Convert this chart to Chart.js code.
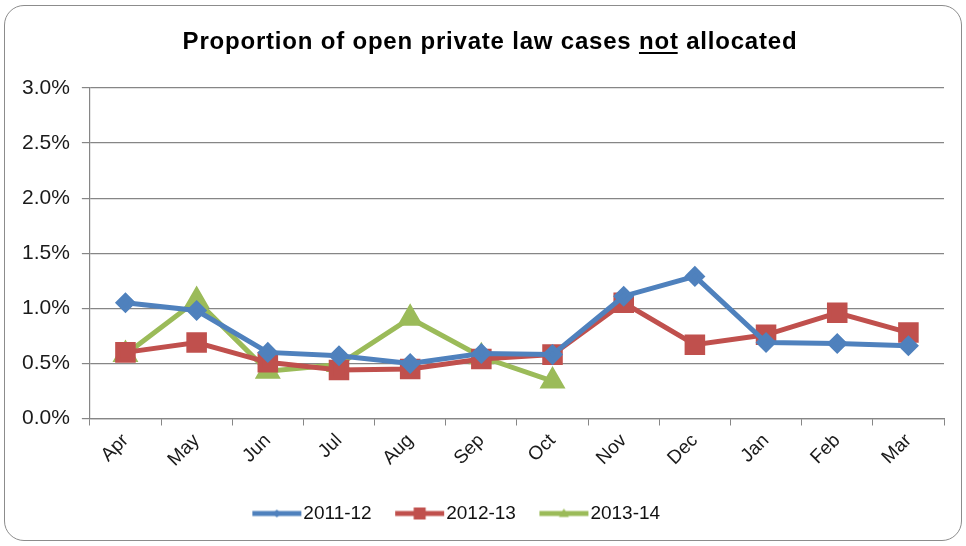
<!DOCTYPE html>
<html>
<head>
<meta charset="utf-8">
<script src="https://cdn.jsdelivr.net/npm/chart.js@4.4.0/dist/chart.umd.min.js"></script>
<style>
  html, body { margin: 0; padding: 0; background: #fff; }
  #chart { position: absolute; left: 0; top: 0; display: block; }
  #frame {
    position: absolute; left: 4px; top: 5px;
    width: 956px; height: 534px;
    border: 1.5px solid #8c8c8c; border-radius: 20px;
    pointer-events: none;
  }
</style>
</head>
<body>
<canvas id="chart" width="966" height="546"></canvas>
<div id="frame"></div>
<script>
// chart data (percent)
const months = ['Apr', 'May', 'Jun', 'Jul', 'Aug', 'Sep', 'Oct', 'Nov', 'Dec', 'Jan', 'Feb', 'Mar'];
const y2011 = [1.05, 0.98, 0.60, 0.57, 0.50, 0.59, 0.58, 1.11, 1.29, 0.69, 0.68, 0.66];
const y2012 = [0.60, 0.69, 0.51, 0.44, 0.45, 0.54, 0.58, 1.05, 0.67, 0.76, 0.96, 0.78];
const y2013 = [0.58, 1.07, 0.43, 0.49, 0.91, 0.56, 0.34];
const seriesNames = ['2011-12', '2012-13', '2013-14'];
const yTicks = [0, 0.5, 1.0, 1.5, 2.0, 2.5, 3.0];

const titleBefore = 'Proportion of open private law cases ';
const titleUnder = 'not';
const titleAfter = ' allocated';
const titleFont = 'bold 24px "Liberation Sans", Arial, sans-serif';

const legendFontSize = 19;
const legendBoxW = 40;

// legend swatch: line with marker in the middle, like Excel
function legendSwatch(color, style, r) {
    const fs = legendFontSize;
    const c = document.createElement('canvas');
    c.width = legendBoxW + fs; c.height = 24;
    const g = c.getContext('2d');
    const x0 = 8, x1 = 57, mx = (x0 + x1) / 2, my = 12;
    g.strokeStyle = color; g.lineWidth = 5; g.lineCap = 'butt';
    g.beginPath(); g.moveTo(x0, my); g.lineTo(x1, my); g.stroke();
    g.fillStyle = color;
    g.beginPath();
    if (style === 'rectRot') {
        g.moveTo(mx, my - r); g.lineTo(mx + r, my); g.lineTo(mx, my + r); g.lineTo(mx - r, my);
    } else if (style === 'rect') {
        g.rect(mx - r, my - r, 2 * r, 2 * r);
    } else {
        g.moveTo(mx, my - r); g.lineTo(mx + r, my + r * 0.7); g.lineTo(mx - r, my + r * 0.7);
    }
    g.closePath(); g.fill();
    return c;
}

const swatches = [
    legendSwatch('#4f81bd', 'rectRot', 4),
    legendSwatch('#c0504d', 'rect', 6),
    legendSwatch('#9bbb59', 'triangle', 5)
];

// title drawn by hand so that "not" can be underlined
const titlePlugin = {
    id: 'underlinedTitle',
    afterLayout(chart) {
        // Excel puts the legend a little left of centre
        chart.legend.left -= 20;
        chart.legend.right -= 20;
    },
    afterDraw(chart) {
        const ctx = chart.ctx;
        ctx.save();
        ctx.font = titleFont;
        ctx.letterSpacing = '0.8px';
        ctx.fillStyle = '#000';
        ctx.textBaseline = 'alphabetic';
        const full = titleBefore + titleUnder + titleAfter;
        const wFull = ctx.measureText(full).width;
        const wPre = ctx.measureText(titleBefore).width;
        const wNot = ctx.measureText(titleUnder).width;
        const x = 490 - wFull / 2;
        const y = 49;
        ctx.fillText(full, x, y);
        ctx.strokeStyle = '#000';
        ctx.lineWidth = 2;
        ctx.beginPath(); ctx.moveTo(x + wPre, y + 4); ctx.lineTo(x + wPre + wNot - 1, y + 4); ctx.stroke();
        ctx.restore();
    }
};

new Chart(document.getElementById('chart'), {
    type: 'line',
    data: {
        labels: months,
        datasets: [{
            label: seriesNames[0],
            data: y2011,
            borderColor: '#4f81bd',
            backgroundColor: '#4f81bd',
            pointStyle: 'rectRot',
            pointRadius: 7,
            borderWidth: 5
        }, {
            label: seriesNames[1],
            data: y2012,
            borderColor: '#c0504d',
            backgroundColor: '#c0504d',
            pointStyle: 'rect',
            pointRadius: 11,
            borderWidth: 5
        }, {
            label: seriesNames[2],
            data: y2013,
            borderColor: '#9bbb59',
            backgroundColor: '#9bbb59',
            pointStyle: 'triangle',
            pointRadius: 10,
            borderWidth: 5
        }]
    },
    options: {
        responsive: false,
        animation: false,
        layout: { padding: { left: 10, right: 22, top: 88, bottom: 13 } },
        elements: { line: { tension: 0 }, point: { borderWidth: 0, hoverRadius: 8 } },
        plugins: {
            title: { display: false },
            legend: {
                position: 'bottom',
                labels: {
                    usePointStyle: true,
                    pointStyleWidth: legendBoxW,
                    color: '#111',
                    font: { family: '"Liberation Sans", Arial, sans-serif', size: legendFontSize },
                    padding: 25,
                    generateLabels(chart) {
                        const items = Chart.defaults.plugins.legend.labels.generateLabels(chart);
                        items.forEach((it, i) => { it.pointStyle = swatches[i]; });
                        return items;
                    }
                }
            },
            tooltip: { enabled: false }
        },
        scales: {
            x: {
                offset: true,
                afterFit(axis) { axis.height += 4; },
                grid: { offset: true, drawOnChartArea: false, drawTicks: true, tickLength: 7, color: '#868686' },
                border: { color: '#868686', width: 1.2 },
                ticks: {
                    color: '#1a1a1a',
                    font: { family: '"Liberation Sans", Arial, sans-serif', size: 19 },
                    minRotation: 45, maxRotation: 45, padding: 4
                }
            },
            y: {
                min: 0, max: 3,
                afterBuildTicks(axis) { axis.ticks = yTicks.map(v => ({ value: v })); },
                grid: { color: '#868686', lineWidth: 1.2, drawTicks: true, tickLength: 8 },
                border: { color: '#868686', width: 1.2 },
                ticks: {
                    color: '#1a1a1a',
                    font: { family: '"Liberation Sans", Arial, sans-serif', size: 21 },
                    padding: 12,
                    callback: v => v.toFixed(1) + '%'
                }
            }
        }
    },
    plugins: [titlePlugin]
});
</script>
</body>
</html>
